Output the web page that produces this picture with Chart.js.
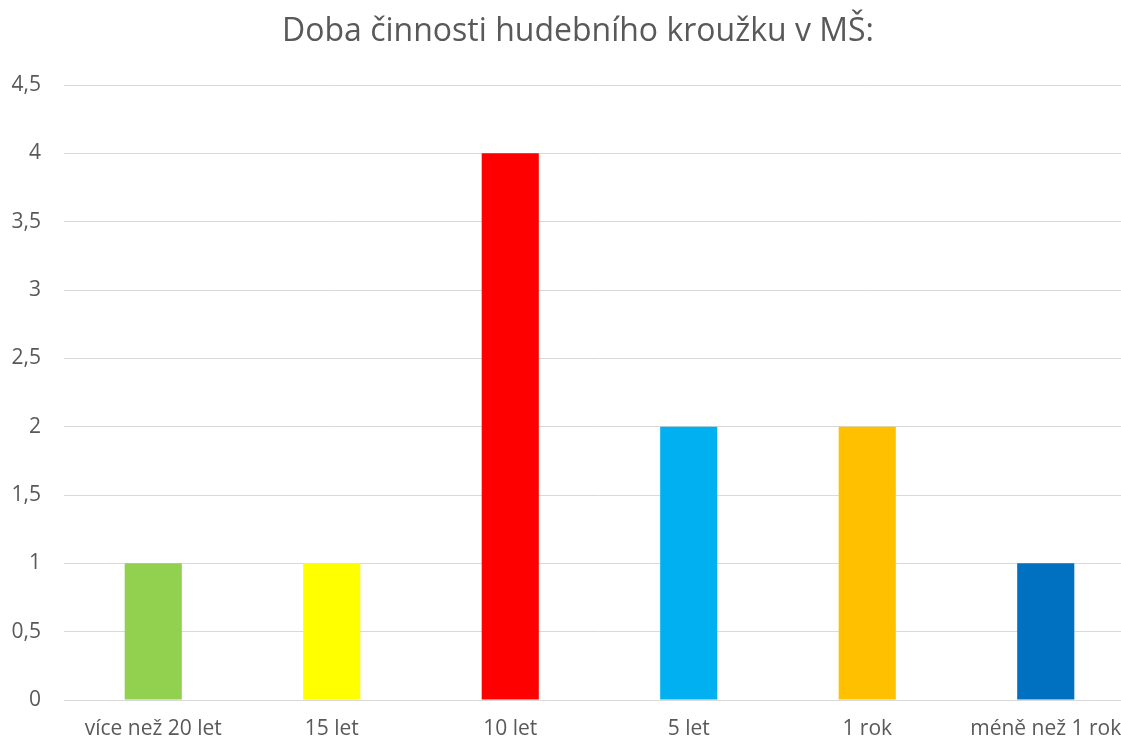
<!DOCTYPE html>
<html>
<head>
<meta charset="utf-8">
<script src="https://cdn.jsdelivr.net/npm/chart.js@4"></script>
<style>
html,body{margin:0;padding:0;overflow:hidden;background:#fff;}
#wrap{width:1170px;height:740px;position:relative;}
</style>
</head>
<body>
<div id="wrap"><canvas id="c"></canvas></div>
<script>
const categories = ["více než 20 let", "15 let", "10 let", "5 let", "1 rok", "méně než 1 rok"];
const values = [1, 1, 4, 2, 2, 1];
const barColors = ["#92D050", "#FFFF00", "#FF0000", "#00B0F0", "#FFC000", "#0070C0"];
const chartTitle = "Doba činnosti hudebního kroužku v MŠ:";

const shiftTitle = {
  id: 'shiftTitle',
  afterLayout(chart) {
    if (chart.titleBlock) { chart.titleBlock.left = 21; }
  }
};

new Chart(document.getElementById('c'), {
  type: 'bar',
  data: {
    labels: categories,
    datasets: [{
      data: values,
      backgroundColor: barColors,
      borderWidth: 0,
      categoryPercentage: 1,
      barPercentage: 0.32
    }]
  },
  options: {
    responsive: true,
    maintainAspectRatio: false,
    animation: false,
    devicePixelRatio: 1,
    layout: { padding: { left: 0, right: 35, top: 13, bottom: 0 } },
    plugins: {
      legend: { display: false },
      tooltip: { enabled: false },
      title: {
        display: true,
        text: chartTitle,
        color: '#595959',
        font: { family: 'Open Sans', size: 32, weight: 'normal' },
        padding: { top: 0, bottom: 33.6 }
      }
    },
    scales: {
      x: {
        afterFit: function(scale) { scale.height = 40; },
        grid: { display: false, drawTicks: false },
        border: { display: true, color: '#d9d9d9', width: 1 },
        ticks: {
          color: '#595959',
          font: { family: 'Open Sans', size: 21, lineHeight: 1 },
          padding: 19,
          maxRotation: 0,
          autoSkip: false
        }
      },
      y: {
        min: 0,
        max: 4.5,
        afterFit: function(scale) { scale.width = 64; },
        grid: { color: '#d9d9d9', lineWidth: 1, drawTicks: false },
        border: { display: false },
        ticks: {
          stepSize: 0.5,
          color: '#595959',
          font: { family: 'Open Sans', size: 21 },
          padding: 23,
          callback: function(v) { return String(v).replace('.', ','); }
        }
      }
    }
  },
  plugins: [shiftTitle]
});
</script>
</body>
</html>
